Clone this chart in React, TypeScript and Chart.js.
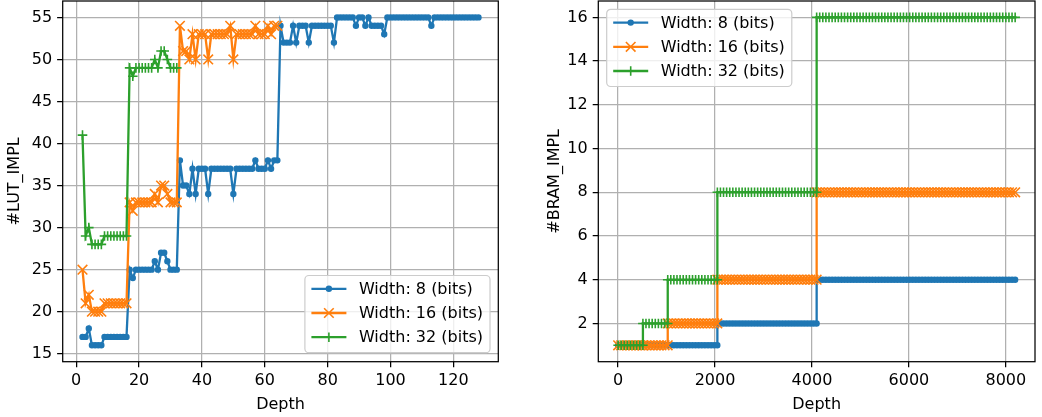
import React, { useEffect, useRef } from 'react';
import { Chart, registerables } from 'chart.js';

Chart.register(...registerables);

const FONT_FAMILY = '"DejaVu Sans", "Liberation Sans", sans-serif';
const FS = 16;
const BLUE = '#1f77b4';
const ORANGE = '#ff7f0e';
const GREEN = '#2ca02c';

const seriesLabels = ['Width: 8 (bits)', 'Width: 16 (bits)', 'Width: 32 (bits)'];

// ---------- Left chart: #LUT_IMPL vs Depth ----------
const lutDepthW8 = [
  2, 3, 4, 5, 6, 7, 8, 9, 10, 11, 12, 13, 14, 15, 16, 17, 18, 19, 20, 21, 22, 23, 24, 25, 26, 27, 28, 29, 30, 31, 32,
  33, 34, 35, 36, 37, 38, 39, 40, 41, 42, 43, 44, 45, 46, 47, 48, 49, 50, 51, 52, 53, 54, 55, 56, 57, 58, 59, 60, 61, 62, 63, 64,
  65, 66, 67, 68, 69, 70, 71, 72, 73, 74, 75, 76, 77, 78, 79, 80, 81, 82, 83, 84, 85, 86, 87, 88, 89, 90, 91, 92, 93, 94, 95, 96,
  97, 98, 99, 100, 101, 102, 103, 104, 105, 106, 107, 108, 109, 110, 111, 112, 113, 114, 115, 116, 117, 118, 119, 120, 121, 122, 123, 124, 125, 126, 127, 128,
];
const lutW8 = [
  17, 17, 18, 16, 16, 16, 16,
  17, 17, 17, 17, 17, 17, 17, 17,
  25, 24, 25, 25, 25, 25, 25, 25, 26, 25, 27, 27, 26, 25, 25, 25,
  38, 35, 35, 34, 37, 34, 37, 37, 37, 34, 37, 37, 37, 37, 37, 37, 37, 34, 37, 37, 37, 37, 37, 37, 38, 37, 37, 37, 38, 37, 38, 38,
  54, 52, 52, 52, 54, 52, 54, 54, 54, 52, 54, 54, 54, 54, 54, 54, 54, 52, 55, 55, 55, 55, 55, 55,
  54, 55, 55, 54, 55, 54, 54, 54, 54, 53,
  55, 55, 55, 55, 55, 55, 55, 55, 55, 55, 55, 55, 55, 55,
  54,
  55, 55, 55, 55, 55, 55, 55, 55, 55, 55, 55, 55, 55, 55, 55,
];
const lutDepthW16 = [
  2, 3, 4, 5, 6, 7, 8, 9, 10, 11, 12, 13, 14, 15, 16, 17, 18, 19, 20, 21, 22, 23, 24, 25, 26, 27, 28, 29, 30, 31, 32,
  33, 34, 35, 36, 37, 38, 39, 40, 41, 42, 43, 44, 45, 46, 47, 48, 49, 50, 51, 52, 53, 54, 55, 56, 57, 58, 59, 60, 61, 62, 63, 64,
];
const lutW16 = [
  25, 21, 22, 20, 20, 20, 20,
  21, 21, 21, 21, 21, 21, 21, 21,
  33, 32, 33, 33, 33, 33, 33, 33, 34, 33, 35, 35, 34, 33, 33, 33,
  54, 51, 51, 50, 53, 50, 53, 53, 53, 50, 53, 53, 53, 53, 53, 53, 54, 50, 53, 53, 53, 53, 53, 53, 54, 53, 53, 53, 54, 53, 54, 54,
];
const lutDepthW32 = [
  2, 3, 4, 5, 6, 7, 8, 9, 10, 11, 12, 13, 14, 15, 16, 17, 18, 19, 20, 21, 22, 23, 24, 25, 26, 27, 28, 29, 30, 31, 32,
];
const lutW32 = [
  41, 29, 30, 28, 28, 28, 28,
  29, 29, 29, 29, 29, 29, 29, 29,
  49, 48, 49, 49, 49, 49, 49, 49, 50, 49, 51, 51, 50, 49, 49, 49,
];
const lutXTicks = [0, 20, 40, 60, 80, 100, 120];
const lutYTicks = [15, 20, 25, 30, 35, 40, 45, 50, 55];

// ---------- Right chart: #BRAM_IMPL vs Depth ----------
const bramDepth = [
  2, 64, 128, 192, 256, 320, 384, 448, 512,
  513, 576, 640, 704, 768, 832, 896, 960, 1024,
  1025, 1088, 1152, 1216, 1280, 1344, 1408, 1472, 1536, 1600, 1664, 1728, 1792, 1856, 1920, 1984, 2048,
  2049, 2112, 2176, 2240, 2304, 2368, 2432, 2496, 2560, 2624, 2688, 2752, 2816, 2880, 2944, 3008, 3072,
  3136, 3200, 3264, 3328, 3392, 3456, 3520, 3584, 3648, 3712, 3776, 3840, 3904, 3968, 4032, 4096,
  4097, 4160, 4224, 4288, 4352, 4416, 4480, 4544, 4608, 4672, 4736, 4800, 4864, 4928, 4992, 5056, 5120,
  5184, 5248, 5312, 5376, 5440, 5504, 5568, 5632, 5696, 5760, 5824, 5888, 5952, 6016, 6080, 6144,
  6208, 6272, 6336, 6400, 6464, 6528, 6592, 6656, 6720, 6784, 6848, 6912, 6976, 7040, 7104, 7168,
  7232, 7296, 7360, 7424, 7488, 7552, 7616, 7680, 7744, 7808, 7872, 7936, 8000, 8064, 8128, 8192,
];
const bramW8 = [
  1, 1, 1, 1, 1, 1, 1, 1, 1,
  1, 1, 1, 1, 1, 1, 1, 1, 1,
  1, 1, 1, 1, 1, 1, 1, 1, 1, 1, 1, 1, 1, 1, 1, 1, 1,
  2, 2, 2, 2, 2, 2, 2, 2, 2, 2, 2, 2, 2, 2, 2, 2, 2,
  2, 2, 2, 2, 2, 2, 2, 2, 2, 2, 2, 2, 2, 2, 2, 2,
  4, 4, 4, 4, 4, 4, 4, 4, 4, 4, 4, 4, 4, 4, 4, 4, 4,
  4, 4, 4, 4, 4, 4, 4, 4, 4, 4, 4, 4, 4, 4, 4, 4,
  4, 4, 4, 4, 4, 4, 4, 4, 4, 4, 4, 4, 4, 4, 4, 4,
  4, 4, 4, 4, 4, 4, 4, 4, 4, 4, 4, 4, 4, 4, 4, 4,
];
const bramW16 = [
  1, 1, 1, 1, 1, 1, 1, 1, 1,
  1, 1, 1, 1, 1, 1, 1, 1, 1,
  2, 2, 2, 2, 2, 2, 2, 2, 2, 2, 2, 2, 2, 2, 2, 2, 2,
  4, 4, 4, 4, 4, 4, 4, 4, 4, 4, 4, 4, 4, 4, 4, 4, 4,
  4, 4, 4, 4, 4, 4, 4, 4, 4, 4, 4, 4, 4, 4, 4, 4,
  8, 8, 8, 8, 8, 8, 8, 8, 8, 8, 8, 8, 8, 8, 8, 8, 8,
  8, 8, 8, 8, 8, 8, 8, 8, 8, 8, 8, 8, 8, 8, 8, 8,
  8, 8, 8, 8, 8, 8, 8, 8, 8, 8, 8, 8, 8, 8, 8, 8,
  8, 8, 8, 8, 8, 8, 8, 8, 8, 8, 8, 8, 8, 8, 8, 8,
];
const bramW32 = [
  1, 1, 1, 1, 1, 1, 1, 1, 1,
  2, 2, 2, 2, 2, 2, 2, 2, 2,
  4, 4, 4, 4, 4, 4, 4, 4, 4, 4, 4, 4, 4, 4, 4, 4, 4,
  8, 8, 8, 8, 8, 8, 8, 8, 8, 8, 8, 8, 8, 8, 8, 8, 8,
  8, 8, 8, 8, 8, 8, 8, 8, 8, 8, 8, 8, 8, 8, 8, 8,
  16, 16, 16, 16, 16, 16, 16, 16, 16, 16, 16, 16, 16, 16, 16, 16, 16,
  16, 16, 16, 16, 16, 16, 16, 16, 16, 16, 16, 16, 16, 16, 16, 16,
  16, 16, 16, 16, 16, 16, 16, 16, 16, 16, 16, 16, 16, 16, 16, 16,
  16, 16, 16, 16, 16, 16, 16, 16, 16, 16, 16, 16, 16, 16, 16, 16,
];
const bramXTicks = [0, 2000, 4000, 6000, 8000];
const bramYTicks = [2, 4, 6, 8, 10, 12, 14, 16];

// ---------- styling helpers ----------
const font = { family: FONT_FAMILY, size: FS };

type MarkerKind = 'dot' | 'x' | 'plus';
const markerKinds: MarkerKind[] = ['dot', 'x', 'plus'];
const colors = [BLUE, ORANGE, GREEN];

function drawMarker(ctx: CanvasRenderingContext2D, kind: MarkerKind, x: number, y: number, color: string) {
  ctx.save();
  ctx.strokeStyle = color;
  ctx.fillStyle = color;
  ctx.lineWidth = 1.6;
  if (kind === 'dot') {
    ctx.beginPath();
    ctx.arc(x, y, 2.4, 0, Math.PI * 2);
    ctx.fill();
    ctx.stroke();
  } else if (kind === 'x') {
    const h = 4.8;
    ctx.beginPath();
    ctx.moveTo(x - h, y - h);
    ctx.lineTo(x + h, y + h);
    ctx.moveTo(x - h, y + h);
    ctx.lineTo(x + h, y - h);
    ctx.stroke();
  } else {
    const h = 4.8;
    ctx.beginPath();
    ctx.moveTo(x - h, y);
    ctx.lineTo(x + h, y);
    ctx.moveTo(x, y - h);
    ctx.lineTo(x, y + h);
    ctx.stroke();
  }
  ctx.restore();
}

const framePlugin = {
  id: 'mplFrame',
  afterDatasetsDraw(chart: any) {
    const { ctx, chartArea: a } = chart;
    ctx.save();
    ctx.strokeStyle = '#000';
    ctx.lineWidth = 1.25;
    ctx.strokeRect(a.left, a.top, a.right - a.left, a.bottom - a.top);
    ctx.restore();
  },
};

function makeLegendPlugin(corner: 'lr' | 'ul') {
  return {
    id: 'mplLegend',
    afterDraw(chart: any) {
      const { ctx, chartArea: a } = chart;
      const items = chart.data.datasets;
      ctx.save();
      ctx.font = `${FS}px ${FONT_FAMILY}`;
      const textW = Math.max(...items.map((d: any) => ctx.measureText(d.label).width));
      const padL = 6.5;
      const handle = 35;
      const gap = 12.5;
      const padR = 7;
      const rowH = 24.2;
      const topPad = 13.3;
      const botPad = 15.5;
      const w = padL + handle + gap + textW + padR;
      const h = topPad + rowH * (items.length - 1) + botPad;
      let x0: number;
      let y0: number;
      if (corner === 'lr') {
        x0 = a.right - 8.3 - w;
        y0 = a.bottom - 9 - h;
      } else {
        x0 = a.left + 8.4;
        y0 = a.top + 8.3;
      }
      const r = 4;
      ctx.beginPath();
      ctx.moveTo(x0 + r, y0);
      ctx.lineTo(x0 + w - r, y0);
      ctx.arcTo(x0 + w, y0, x0 + w, y0 + r, r);
      ctx.lineTo(x0 + w, y0 + h - r);
      ctx.arcTo(x0 + w, y0 + h, x0 + w - r, y0 + h, r);
      ctx.lineTo(x0 + r, y0 + h);
      ctx.arcTo(x0, y0 + h, x0, y0 + h - r, r);
      ctx.lineTo(x0, y0 + r);
      ctx.arcTo(x0, y0, x0 + r, y0, r);
      ctx.closePath();
      ctx.fillStyle = 'rgba(255,255,255,0.8)';
      ctx.fill();
      ctx.strokeStyle = '#cccccc';
      ctx.lineWidth = 1.2;
      ctx.stroke();
      items.forEach((d: any, i: number) => {
        const cy = y0 + topPad + i * rowH;
        const lx = x0 + padL;
        ctx.strokeStyle = colors[i];
        ctx.lineWidth = 2.3;
        ctx.beginPath();
        ctx.moveTo(lx, cy);
        ctx.lineTo(lx + handle, cy);
        ctx.stroke();
        drawMarker(ctx, markerKinds[i], lx + handle / 2, cy, colors[i]);
        ctx.fillStyle = '#000';
        ctx.textBaseline = 'middle';
        ctx.textAlign = 'left';
        ctx.fillText(d.label, lx + handle + gap, cy + 1);
      });
      ctx.restore();
    },
  };
}

function makeDataset(i: number, xs: number[], ys: number[]) {
  const color = colors[i];
  const base: any = {
    label: seriesLabels[i],
    data: xs.map((x, k) => ({ x, y: ys[k] })),
    borderColor: color,
    backgroundColor: color,
    pointBorderColor: color,
    pointBackgroundColor: color,
    borderWidth: 2.3,
    tension: 0,
    order: 2 - i,
  };
  if (i === 0) {
    base.pointStyle = 'circle';
    base.pointRadius = 2.4;
    base.pointBorderWidth = 1.6;
  } else if (i === 1) {
    base.pointStyle = 'crossRot';
    base.pointRadius = 6.8;
    base.pointBorderWidth = 1.6;
  } else {
    base.pointStyle = 'cross';
    base.pointRadius = 4.8;
    base.pointBorderWidth = 1.6;
  }
  base.pointHoverRadius = base.pointRadius;
  return base;
}

interface AxisSpec {
  xMin: number; xMax: number; yMin: number; yMax: number;
  xTicks: number[]; yTicks: number[];
  yTitle: string; yAxisWidth: number; xAxisHeight: number;
  yTitlePad: number; padRight: number;
}

function makeConfig(datasets: any[], spec: AxisSpec, corner: 'lr' | 'ul'): any {
  const gridCommon = {
    color: '#b0b0b0',
    lineWidth: 1.25,
    drawTicks: true,
    tickLength: 5.6,
    tickColor: '#000',
    tickWidth: 1.25,
  };
  return {
    type: 'line',
    data: { datasets },
    options: {
      animation: false,
      responsive: false,
      events: [],
      layout: { autoPadding: false, padding: { left: 0, top: 1, right: spec.padRight, bottom: 0 } },
      plugins: { legend: { display: false }, tooltip: { enabled: false } },
      scales: {
        x: {
          type: 'linear',
          min: spec.xMin,
          max: spec.xMax,
          afterBuildTicks: (s: any) => { s.ticks = spec.xTicks.map((v) => ({ value: v })); },
          afterFit: (s: any) => { s.height = spec.xAxisHeight; s.paddingLeft = 0; s.paddingRight = 0; },
          grid: gridCommon,
          border: { display: false },
          ticks: { font, color: '#000', padding: 4, maxRotation: 0, autoSkip: false, callback: (v: any) => String(v) },
          title: { display: true, text: 'Depth', font, color: '#000', padding: { top: 0, bottom: 3 } },
        },
        y: {
          type: 'linear',
          min: spec.yMin,
          max: spec.yMax,
          afterBuildTicks: (s: any) => { s.ticks = spec.yTicks.map((v) => ({ value: v })); },
          afterFit: (s: any) => { s.width = spec.yAxisWidth; s.paddingTop = 0; s.paddingBottom = 0; },
          grid: gridCommon,
          border: { display: false },
          ticks: { font, color: '#000', padding: 5, autoSkip: false, callback: (v: any) => String(v) },
          title: { display: true, text: spec.yTitle, font, color: '#000', padding: { top: spec.yTitlePad, bottom: 0 } },
        },
      },
    },
    plugins: [framePlugin, makeLegendPlugin(corner)],
  };
}

function ChartCanvas({ config, left, width }: { config: () => any; left: number; width: number }) {
  const ref = useRef<HTMLCanvasElement | null>(null);
  useEffect(() => {
    if (!ref.current) return;
    const chart = new Chart(ref.current, config());
    return () => chart.destroy();
  }, []);
  return (
    <canvas
      ref={ref}
      width={width}
      height={417}
      style={{ position: 'absolute', left, top: 0, width, height: 417 }}
    />
  );
}

export default function App() {
  const leftConfig = () =>
    makeConfig(
      [
        makeDataset(0, lutDepthW8, lutW8),
        makeDataset(1, lutDepthW16, lutW16),
        makeDataset(2, lutDepthW32, lutW32),
      ],
      {
        xMin: -4.3, xMax: 134.3, yMin: 14.05, yMax: 56.95,
        xTicks: lutXTicks, yTicks: lutYTicks,
        yTitle: '#LUT_IMPL', yAxisWidth: 62.7, xAxisHeight: 55.3,
        yTitlePad: 5.2, padRight: 520 - 498.3,
      },
      'lr'
    );
  const rightConfig = () =>
    makeConfig(
      [
        makeDataset(0, bramDepth, bramW8),
        makeDataset(1, bramDepth, bramW16),
        makeDataset(2, bramDepth, bramW32),
      ],
      {
        xMin: -407.5, xMax: 8601.5, yMin: 0.25, yMax: 16.75,
        xTicks: bramXTicks, yTicks: bramYTicks,
        yTitle: '#BRAM_IMPL', yAxisWidth: 78.3, xAxisHeight: 55.3,
        yTitlePad: 25.2, padRight: 7,
      },
      'ul'
    );
  return (
    <div style={{ position: 'absolute', left: 0, top: 0, width: 1042, height: 417, background: '#fff' }}>
      <ChartCanvas config={leftConfig} left={0} width={520} />
      <ChartCanvas config={rightConfig} left={520} width={522} />
    </div>
  );
}
